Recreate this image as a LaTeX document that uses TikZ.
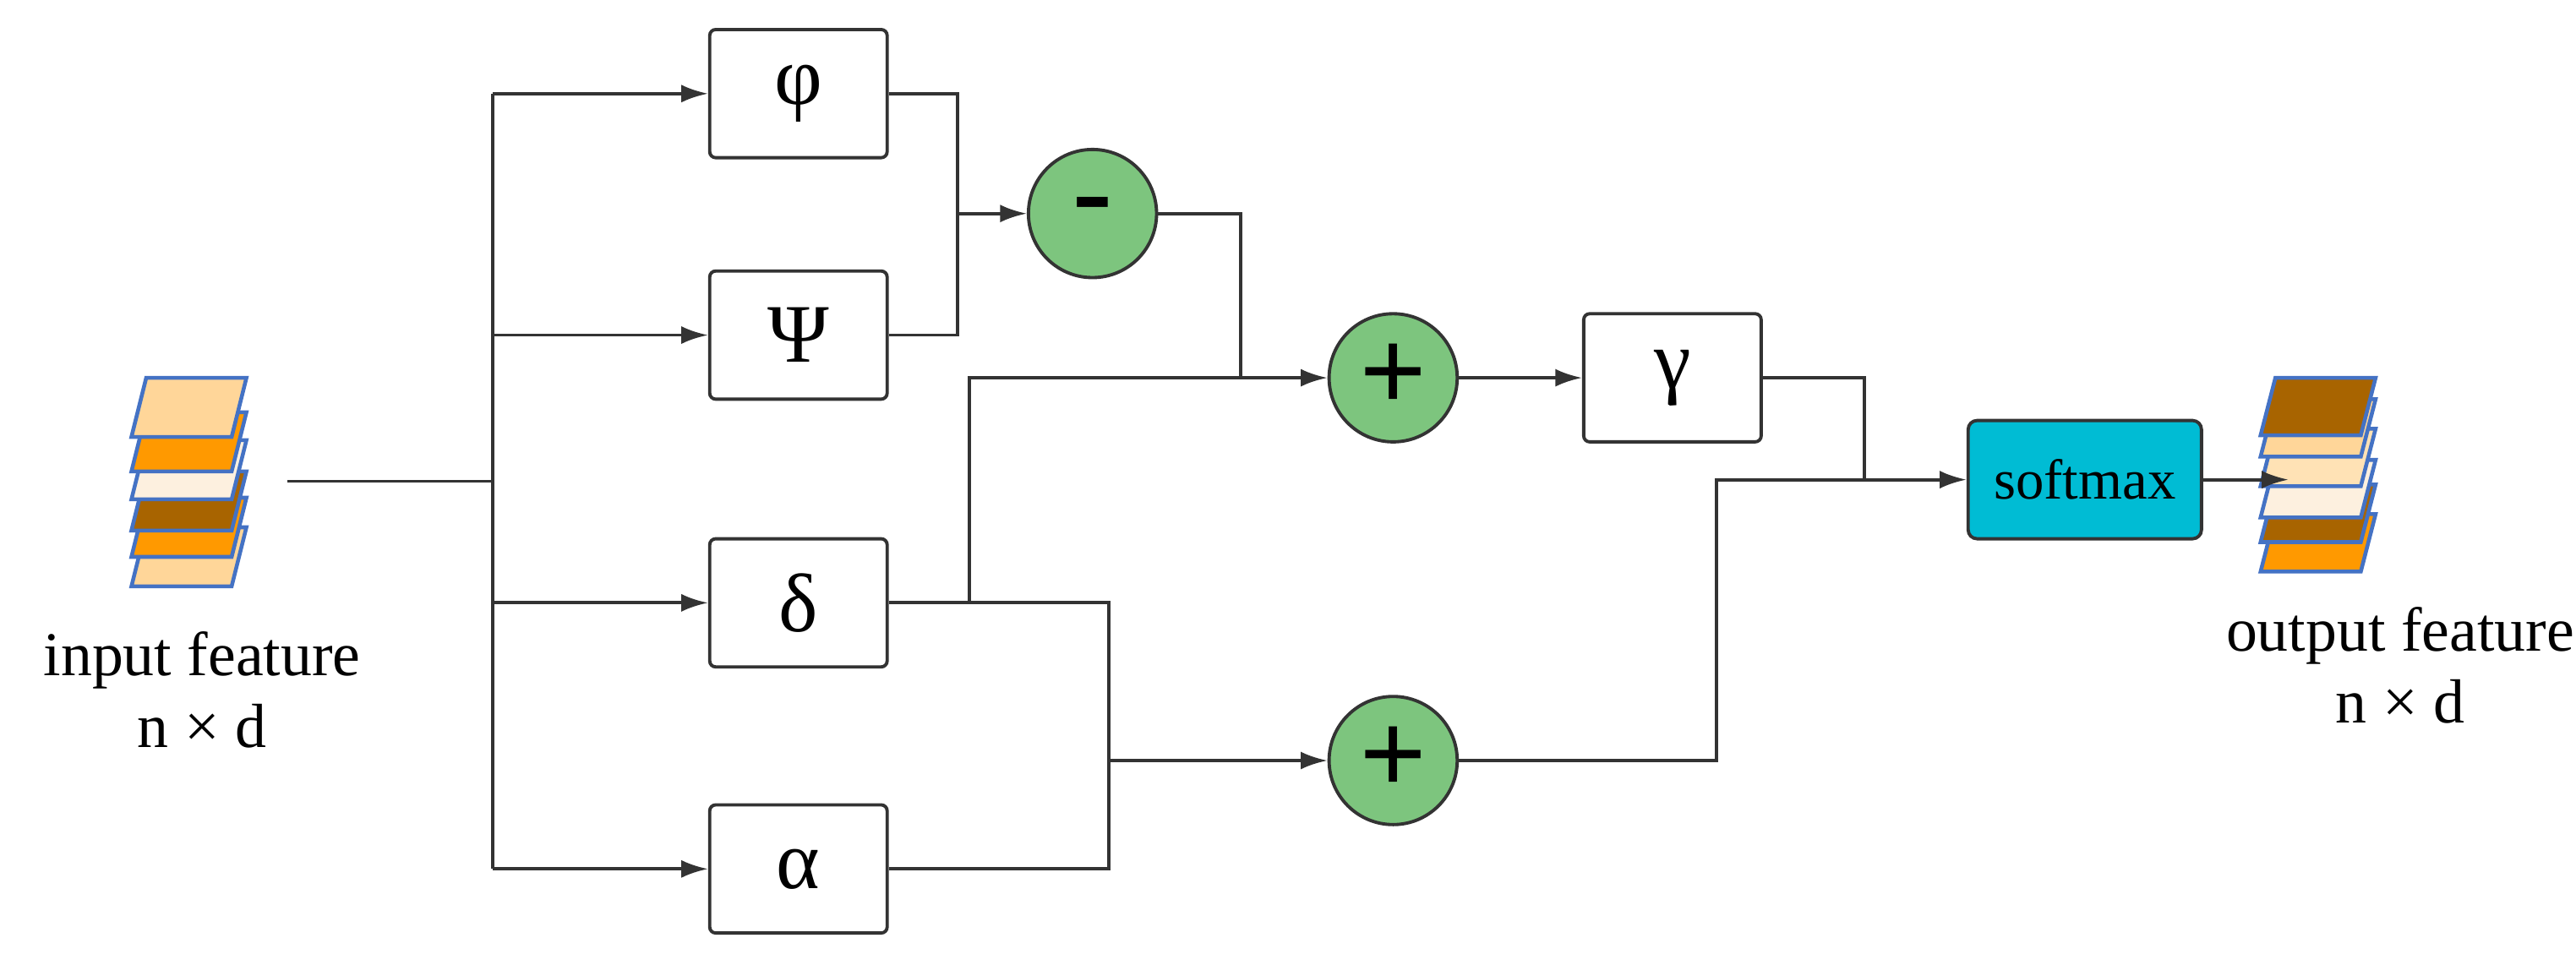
\documentclass[tikz,border=0pt]{standalone}
\usepackage{fontspec}
\setmainfont{Liberation Serif}
\usetikzlibrary{arrows.meta}
\definecolor{ln}{HTML}{333333}
\definecolor{grn}{HTML}{7DC57E}
\definecolor{cyn}{HTML}{00BCD4}
\definecolor{lo}{HTML}{FFD699}
\definecolor{lo2}{HTML}{FFE2B5}
\definecolor{og}{HTML}{FF9900}
\definecolor{cr}{HTML}{FDF0DF}
\definecolor{br}{HTML}{A86400}
\definecolor{bl}{HTML}{4472C4}
\begin{document}
\begin{tikzpicture}[x=0.01944cm,y=-0.01944cm,
  line width=1.1pt,
  box/.style={draw=ln,rounded corners=2pt,minimum width=108*0.01944cm,minimum height=78*0.01944cm,inner sep=0pt,font=\fontsize{28}{30}\selectfont,fill=white},
  circ/.style={circle,draw=ln,fill=grn,minimum size=78*0.01944cm,inner sep=0pt,font=\fontsize{40}{40}\selectfont\bfseries},
  arr/.style={draw=ln,-{Latex[length=9pt,width=6pt]}},
  con/.style={draw=ln},
  lay/.style={draw=bl,line width=1.3pt},
  lab/.style={font=\fontsize{21}{24}\selectfont,align=center}]
\useasboundingbox (0,0) rectangle (1568,594);
% input stack
\foreach \t/\c in {321/lo,303/og,287/br,268/cr,251/og,230/lo}{
  \draw[lay,fill=\c] (80,\t+36) -- (89,\t) -- (150,\t) -- (141,\t+36) -- cycle;}
% output stack
\foreach \t/\c in {313/og,295/br,280/cr,261/lo2,243/lo,230/br}{
  \draw[lay,fill=\c] (1376,\t+35) -- (1385,\t) -- (1446,\t) -- (1437,\t+35) -- cycle;}
\node[lab] (inl) at (123,420) {input feature\\n × d};
\node[lab] (outl) at (1461,405) {output feature\\n × d};
% nodes
\node[box] (phi) at (486,57) {φ};
\node[box] (psi) at (486,204) {Ψ};
\node[box] (del) at (486,367) {δ};
\node[box] (alp) at (486,529) {α};
\node[circ] (mi) at (665,130) {\raisebox{-0.18em}{-}};
\node[circ] (p1) at (848,230) {+};
\node[circ] (p2) at (848,463) {+};
\node[box] (gam) at (1018,230) {γ};
\node[draw=ln,fill=cyn,rounded corners=3pt,minimum width=142*0.01944cm,minimum height=72*0.01944cm,inner sep=0pt,font=\fontsize{19}{20}\selectfont] (sm) at (1269,292) {softmax};
\coordinate (in) at (175,293);
\coordinate (out) at (1393,292);
% connectors
\draw[con] (in) -- (300,293);
\draw[con] (300,57) -- (300,529);
\draw[arr] (300,57) -- (phi.west);
\draw[arr] (300,204) -- (psi.west);
\draw[arr] (300,367) -- (del.west);
\draw[arr] (300,529) -- (alp.west);
\draw[con] (phi.east) -| (583,204) -- (psi.east);
\draw[arr] (583,130) -- (mi.west);
\draw[con] (mi.east) -| (755,230);
\draw[arr] (del.east) -- (590,367) |- (p1.west);
\draw[con] (del.east) -| (675,529) -- (alp.east);
\draw[arr] (675,463) -- (p2.west);
\draw[arr] (p1.east) -- (gam.west);
\draw[con] (gam.east) -| (1135,292);
\draw[arr] (p2.east) -| (1045,292) -- (sm.west);
\draw[arr] (sm.east) -- (out);
\end{tikzpicture}
\end{document}
